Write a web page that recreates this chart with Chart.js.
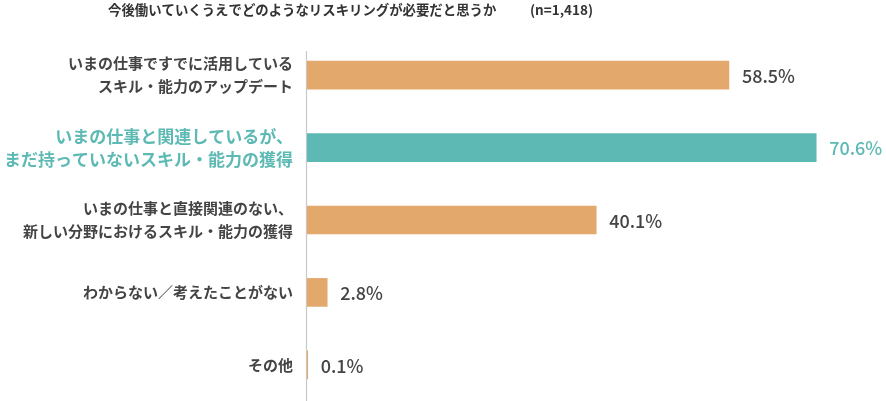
<!DOCTYPE html>
<html>
<head>
<meta charset="utf-8">
<script src="https://cdn.jsdelivr.net/npm/chart.js@4"></script>
<style>
html,body{margin:0;padding:0;background:#fff;}
#wrap{width:886px;height:401px;position:relative;}
</style>
</head>
<body>
<div id="wrap"><canvas id="c"></canvas></div>
<script>
const titleText = '今後働いていくうえでどのようなリスキリングが必要だと思うか';
const sampleText = '(n=1,418)';
const categories = [
  ['いまの仕事ですでに活用している', 'スキル・能力のアップデート'],
  ['いまの仕事と関連しているが、', 'まだ持っていないスキル・能力の獲得'],
  ['いまの仕事と直接関連のない、', '新しい分野におけるスキル・能力の獲得'],
  ['わからない／考えたことがない'],
  ['その他']
];
const values = [58.5, 70.6, 40.1, 2.8, 0.1];
const highlightIndex = 1;

const ORANGE = '#E2A86C';
const TEAL = '#5DB9B3';
const TEXT = '#444444';
const FONT = "'Noto Sans CJK JP', 'Noto Sans', sans-serif";

const barColors = values.map((v, i) => i === highlightIndex ? TEAL : ORANGE);

const titlePlugin = {
  id: 'customTitle',
  afterDraw(chart) {
    const ctx = chart.ctx;
    ctx.save();
    ctx.fillStyle = '#333';
    ctx.font = `bold 13.4px ${FONT}`;
    ctx.textBaseline = 'middle';
    ctx.textAlign = 'left';
    ctx.fillText(titleText, 108, 10);
    ctx.font = `bold 13.5px ${FONT}`;
    ctx.fillText(sampleText, 530, 10);
    ctx.restore();
  }
};

const axisLinePlugin = {
  id: 'axisLine',
  beforeDatasetsDraw(chart) {
    const ctx = chart.ctx;
    const x = chart.scales.x.getPixelForValue(0) - 0.5;
    const top = chart.chartArea.top + 12;
    ctx.save();
    ctx.strokeStyle = '#c8c8c8';
    ctx.lineWidth = 1.2;
    ctx.beginPath();
    ctx.moveTo(x, top);
    ctx.lineTo(x, chart.chartArea.bottom);
    ctx.stroke();
    ctx.restore();
  }
};

const valueLabelPlugin = {
  id: 'valueLabels',
  afterDatasetsDraw(chart) {
    const ctx = chart.ctx;
    const meta = chart.getDatasetMeta(0);
    ctx.save();
    ctx.font = `500 18px ${FONT}`;
    ctx.textBaseline = 'middle';
    ctx.textAlign = 'left';
    meta.data.forEach((bar, i) => {
      ctx.fillStyle = i === highlightIndex ? TEAL : TEXT;
      ctx.fillText(values[i].toFixed(1) + '%', bar.x + 13, bar.y + 1);
    });
    ctx.restore();
  }
};

new Chart(document.getElementById('c'), {
  type: 'bar',
  data: {
    labels: categories,
    datasets: [{
      data: values,
      backgroundColor: barColors,
      borderWidth: 0,
      barThickness: 28
    }]
  },
  options: {
    indexAxis: 'y',
    responsive: true,
    maintainAspectRatio: false,
    animation: false,
    layout: { padding: { top: 39, right: 2, bottom: 0, left: 0 } },
    plugins: {
      legend: { display: false },
      title: { display: false },
      tooltip: { enabled: false }
    },
    scales: {
      x: {
        min: 0,
        max: 80,
        display: false,
        grid: { display: false }
      },
      y: {
        grid: { display: false, drawTicks: false },
        border: { display: false },
        afterFit(scale) {
          scale.width = 307;
          scale.paddingTop = 0;
          scale.paddingBottom = 0;
        },
        ticks: {
          padding: 14,
          color: ctx => ctx.index === highlightIndex ? TEAL : TEXT,
          font: ctx => ctx.index === highlightIndex
            ? { family: FONT, size: 17, weight: 'bold', lineHeight: '23px' }
            : { family: FONT, size: 15, weight: 'bold', lineHeight: '23px' }
        }
      }
    }
  },
  plugins: [titlePlugin, axisLinePlugin, valueLabelPlugin]
});
</script>
</body>
</html>
